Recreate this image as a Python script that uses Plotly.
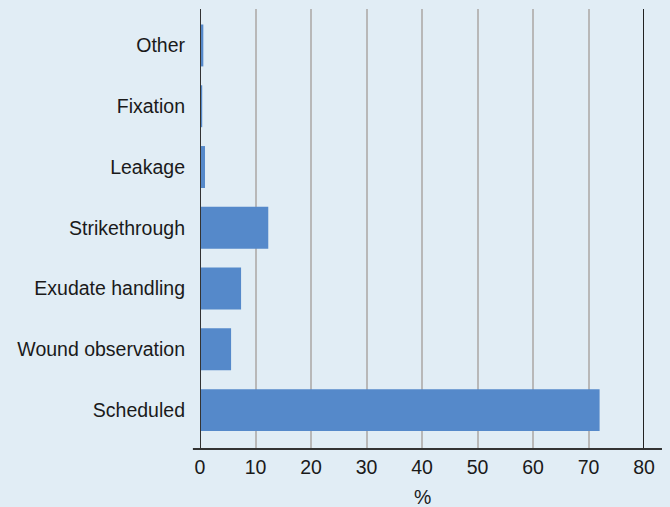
import plotly.graph_objects as go

# Reasons for dressing change, share of changes (%)
categories = ["Scheduled", "Wound observation", "Exudate handling",
              "Strikethrough", "Leakage", "Fixation", "Other"]
percent = [72.0, 5.6, 7.4, 12.3, 0.9, 0.4, 0.6]
x_ticks = [0, 10, 20, 30, 40, 50, 60, 70, 80]
x_title = "%"

bg = "#e1edf5"
bar_color = "#5589ca"
font_family = "Liberation Sans, Arial, sans-serif"

fig = go.Figure(
    go.Bar(
        x=percent,
        y=categories,
        orientation="h",
        marker=dict(color=bar_color, line=dict(width=0)),
        width=0.69,
    )
)

fig.update_layout(
    width=670,
    height=507,
    margin=dict(l=200, r=26, t=9, b=58, autoexpand=False),
    paper_bgcolor=bg,
    plot_bgcolor=bg,
    showlegend=False,
    font=dict(family=font_family, size=19.5, color="#1a1a1a"),
    xaxis=dict(
        range=[0, 80],
        tickvals=x_ticks,
        ticktext=[str(v) for v in x_ticks],
        showgrid=True,
        gridcolor="#b8b8b8",
        gridwidth=1.6,
        zeroline=False,
        showline=False,
        ticks="",
        automargin=False,
        ticklabelstandoff=4,
    ),
    yaxis=dict(
        range=[-0.64, 6.6],
        showgrid=False,
        zeroline=False,
        showline=False,
        ticks="",
        automargin=False,
        ticklabelstandoff=14,
    ),
    annotations=[
        # x-axis title, set below the tick labels
        dict(text=x_title, xref="paper", yref="paper", x=0.5, y=0,
             xanchor="center", yanchor="middle", yshift=-48,
             showarrow=False, font=dict(size=19.5)),
    ],
    shapes=[
        # left axis line at 0
        dict(type="line", xref="x", yref="paper", x0=0, x1=0, y0=0, y1=1,
             line=dict(color="#333333", width=2)),
        # right boundary at 80
        dict(type="line", xref="x", yref="paper", x0=80, x1=80, y0=0, y1=1,
             line=dict(color="#222222", width=2)),
        # baseline extending past both ends of the plot
        dict(type="line", xref="paper", yref="paper", x0=-0.016, x1=1.0405,
             y0=0, y1=0, line=dict(color="#333333", width=2)),
    ],
)

fig.write_html("out.html")
